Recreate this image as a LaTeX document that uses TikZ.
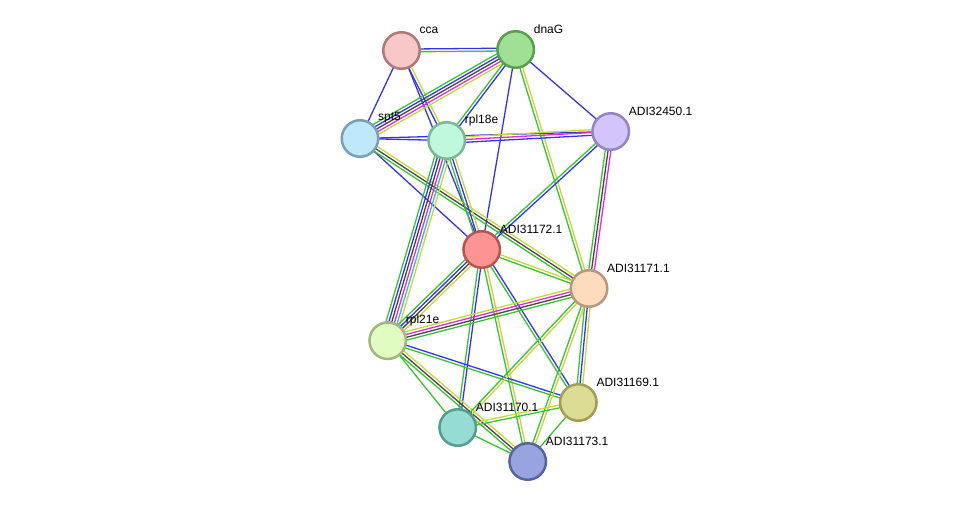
\documentclass[tikz,border=0pt]{standalone}
\usepackage{fontspec}
\setmainfont{Liberation Sans}
\usetikzlibrary{calc,backgrounds}
\definecolor{eg}{RGB}{56,196,48}
\definecolor{eb}{RGB}{52,52,240}
\definecolor{ek}{RGB}{70,70,70}
\definecolor{em}{RGB}{224,44,224}
\definecolor{ec}{RGB}{48,188,232}
\definecolor{ey}{RGB}{198,216,56}
\newcommand\stredge[4]{%
  \foreach \c [count=\i] in {#4}{%
    \pgfmathsetmacro\off{(\i-(#3+1)/2)*2.8}%
    \draw[color=\c, line width=1.3pt]
      ($(#1.center)!\off pt!90:(#2.center)$) -- ($(#2.center)!\off pt!-90:(#1.center)$);
  }}
\begin{document}
\begin{tikzpicture}[x=1pt,y=-1pt,
  prot/.style={circle, minimum size=36.5pt, inner sep=0pt, line width=2.5pt},
  lab/.style={anchor=west, inner sep=0pt, font=\fontsize{12}{14}\selectfont}]
\useasboundingbox (0,0) rectangle (975,508);
\node[prot, fill={rgb,255:red,248;green,200;blue,200}, draw={rgb,255:red,176;green,120;blue,120}] (cca) at (401.5,50.5) {};
\node[prot, fill={rgb,255:red,160;green,224;blue,148}, draw={rgb,255:red,90;green,158;blue,80}] (dnaG) at (515.7,49.5) {};
\node[prot, fill={rgb,255:red,192;green,232;blue,252}, draw={rgb,255:red,122;green,160;blue,184}] (spt) at (360,138.5) {};
\node[prot, fill={rgb,255:red,192;green,248;blue,220}, draw={rgb,255:red,122;green,184;blue,152}] (rplA) at (446.7,140.5) {};
\node[prot, fill={rgb,255:red,212;green,196;blue,252}, draw={rgb,255:red,148;green,132;blue,196}] (p450) at (610.7,131.5) {};
\node[prot, fill={rgb,255:red,252;green,148;blue,148}, draw={rgb,255:red,184;green,84;blue,84}] (p172) at (481.7,249.5) {};
\node[prot, fill={rgb,255:red,252;green,220;blue,188}, draw={rgb,255:red,184;green,152;blue,124}] (p171) at (589,288.5) {};
\node[prot, fill={rgb,255:red,224;green,252;blue,192}, draw={rgb,255:red,160;green,184;blue,128}] (rplB) at (387.7,340.7) {};
\node[prot, fill={rgb,255:red,220;green,220;blue,148}, draw={rgb,255:red,160;green,160;blue,84}] (p169) at (578.3,402.5) {};
\node[prot, fill={rgb,255:red,148;green,220;blue,212}, draw={rgb,255:red,84;green,156;blue,148}] (p170) at (457.7,427.5) {};
\node[prot, fill={rgb,255:red,152;green,164;blue,224}, draw={rgb,255:red,88;green,100;blue,160}] (p173) at (527.7,461.5) {};
\begin{scope}[on background layer]
\stredge{cca}{dnaG}{2}{eg,eb}
\stredge{cca}{spt}{1}{eb}
\stredge{cca}{rplA}{2}{eb,ey}
\stredge{cca}{p172}{1}{eb}
\stredge{dnaG}{spt}{5}{eg,eb,ek,em,ey}
\stredge{dnaG}{rplA}{2}{eg,eb}
\stredge{dnaG}{p172}{1}{eb}
\stredge{dnaG}{p171}{2}{eg,ey}
\stredge{dnaG}{p450}{1}{eb}
\stredge{spt}{rplA}{1}{eb}
\stredge{spt}{p450}{1}{eb}
\stredge{spt}{p172}{1}{eb}
\stredge{spt}{p171}{3}{eg,ek,ey}
\stredge{rplA}{p450}{3}{eb,em,ey}
\stredge{rplA}{rplB}{6}{eg,eb,ek,em,ec,ey}
\stredge{rplA}{p172}{3}{eg,eb,ey}
\stredge{p450}{p172}{2}{eg,eb}
\stredge{p450}{p171}{3}{eg,ek,em}
\stredge{p172}{p171}{2}{eg,ey}
\stredge{p172}{rplB}{4}{eg,eb,ek,ey}
\stredge{p172}{p170}{2}{eg,eb}
\stredge{p172}{p173}{2}{eg,ey}
\stredge{p172}{p169}{2}{eg,eb}
\stredge{rplB}{p171}{4}{eg,ek,em,ey}
\stredge{rplB}{p169}{2}{eg,eb}
\stredge{rplB}{p170}{1}{eg}
\stredge{rplB}{p173}{3}{eg,ek,ey}
\stredge{p171}{p170}{2}{eg,ey}
\stredge{p171}{p169}{3}{eg,eb,ey}
\stredge{p171}{p173}{2}{eg,ey}
\stredge{p170}{p169}{2}{eg,ey}
\stredge{p170}{p173}{1}{eg}
\stredge{p169}{p173}{1}{eg}
\end{scope}
\node[lab] (lcca) at ($(cca)+(18,-20.5)$) {cca};
\node[lab] (ldnaG) at ($(dnaG)+(18,-20.5)$) {dnaG};
\node[lab] (lspt) at ($(spt)+(18,-20.5)$) {spt5};
\node[lab] (lrplA) at ($(rplA)+(18,-20.5)$) {rpl18e};
\node[lab] (lp450) at ($(p450)+(18,-20.5)$) {ADI32450.1};
\node[lab] (lp172) at ($(p172)+(18,-20.5)$) {ADI31172.1};
\node[lab] (lp171) at ($(p171)+(18,-20.5)$) {ADI31171.1};
\node[lab] (lrplB) at ($(rplB)+(18,-20.5)$) {rpl21e};
\node[lab] (lp169) at ($(p169)+(18,-20.5)$) {ADI31169.1};
\node[lab] (lp170) at ($(p170)+(18,-20.5)$) {ADI31170.1};
\node[lab] (lp173) at ($(p173)+(18,-20.5)$) {ADI31173.1};
\end{tikzpicture}
\end{document}
